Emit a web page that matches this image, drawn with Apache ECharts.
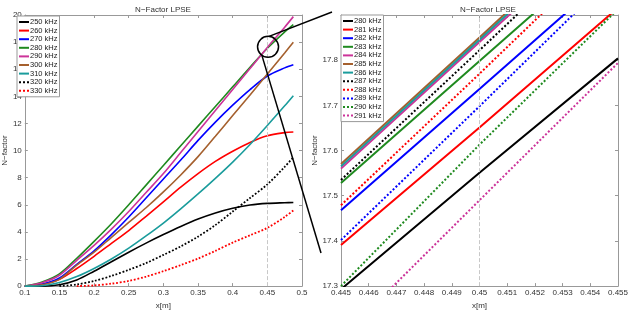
<!DOCTYPE html>
<html><head><meta charset="utf-8">
<script src="https://cdn.jsdelivr.net/npm/echarts@6/dist/echarts.min.js"></script>
<style>html,body{margin:0;padding:0;background:#fff}#c{width:631px;height:315px}</style>
</head><body><div id="c"></div>
<script>
// ---------- data: left panel ----------
const leftX = [0.1, 0.125, 0.15, 0.175, 0.2, 0.225, 0.25, 0.275, 0.3, 0.325, 0.35, 0.375, 0.4, 0.425, 0.45, 0.475, 0.4875];
const leftNames = ['250 kHz','260 kHz','270 kHz','280 kHz','290 kHz','300 kHz','310 kHz','320 kHz','330 kHz'];
const left250 = [0, 0, 0.1, 0.45, 1.1, 1.8, 2.5, 3.17, 3.8, 4.4, 4.95, 5.4, 5.75, 5.98, 6.1, 6.15, 6.17];
const left260 = [0, 0.12, 0.5, 1.3, 2.2, 3.15, 4.1, 5.15, 6.22, 7.3, 8.3, 9.2, 9.95, 10.6, 11.09, 11.32, 11.37];
const left270 = [0, 0.15, 0.6, 1.6, 2.6, 3.8, 5.1, 6.5, 7.9, 9.3, 10.75, 12.1, 13.35, 14.5, 15.5, 16.1, 16.33];
const left280 = [0, 0.3, 0.9, 2.05, 3.3, 4.6, 6.0, 7.45, 8.9, 10.35, 11.8, 13.25, 14.7, 16.15, 17.55, 18.75, 19.29];
const left290 = [0, 0.25, 0.8, 1.9, 3.0, 4.2, 5.5, 6.9, 8.3, 9.85, 11.4, 12.95, 14.5, 16.05, 17.61, 19.1, 19.88];
const left300 = [0, 0.1, 0.5, 1.55, 2.5, 3.6, 4.7, 5.78, 6.95, 8.2, 9.55, 11.05, 12.58, 14.1, 15.65, 17.2, 17.99];
const left310 = [0, 0.03, 0.26, 0.7, 1.3, 2.0, 2.8, 3.7, 4.65, 5.7, 6.8, 7.95, 9.15, 10.45, 11.85, 13.3, 14.05];
const left320 = [null, null, 0, 0.12, 0.38, 0.75, 1.2, 1.7, 2.3, 2.93, 3.65, 4.5, 5.5, 6.5, 7.5, 8.8, 9.5];
const left330 = [null, null, null, 0, 0.05, 0.18, 0.38, 0.7, 1.1, 1.55, 2.03, 2.6, 3.21, 3.75, 4.3, 5.1, 5.58];
const leftTicksX = {min: 0.1, max: 0.5, interval: 0.05};
const leftTicksY = {min: 0, max: 20, interval: 2};

// ---------- data: right panel (zoom) ----------
const rightX = [0.445, 0.45, 0.455];
const rightNames = ['280 kHz','281 kHz','282 kHz','283 kHz','284 kHz','285 kHz','286 kHz','287 kHz','288 kHz','289 kHz','290 kHz','291 kHz'];
const right280 = [17.293, 17.551, 17.804];
const right281 = [17.391, 17.651, 17.916];
const right282 = [17.468, 17.736, 18.006];
const right283 = [17.528, 17.798, 18.068];
const right284 = [17.560, 17.840, 18.120];
const right285 = [17.570, 17.850, 18.135];
const right286 = [17.565, 17.845, 18.128];
const right287 = [17.535, 17.822, 18.112];
const right288 = [17.479, 17.770, 18.065];
const right289 = [17.402, 17.698, 17.998];
const right290 = [17.300, 17.613, 17.913];
const right291 = [17.185, 17.490, 17.794];
const rightTicksX = {min: 0.445, max: 0.455, interval: 0.001};
const rightTicksY = {min: 17.3, max: 17.9, interval: 0.1};
const markX = 0.45;
const zoomCenter = [0.451, 17.65];

// ---------- styling ----------
const FONT = '"Liberation Sans", Arial, sans-serif';
const C = {k:'#000000', r:'#ff0000', b:'#0000ff', g:'#1f8a1f', m:'#cc3399', br:'#a5602e', t:'#1a9c9c'};
const leftYs = [left250,left260,left270,left280,left290,left300,left310,left320,left330];
const leftCol = [C.k,C.r,C.b,C.g,C.m,C.br,C.t,C.k,C.r];
const leftDot = [0,0,0,0,0,0,0,1,1];
const rightYs = [right280,right281,right282,right283,right284,right285,right286,right287,right288,right289,right290,right291];
const rightCol = [C.k,C.r,C.b,C.g,C.m,C.br,C.t,C.k,C.r,C.b,C.g,C.m];
const rightDot = [0,0,0,0,0,0,0,1,1,1,1,1];
const ICON_SOLID = 'path://M0,0h10v2h-10z';
const ICON_DOT = 'path://M0,0h2v2h-2zM4,0h2v2h-2zM8,0h2v2h-2z';

const chart = echarts.init(document.getElementById('c'));
const G0 = {left:14, top:15, width:288, height:282};
const G1 = {left:341, top:15, width:285, height:282};
const axCol = '#999';
const lbl = {fontSize:8, color:'#333', fontFamily:FONT};

function xAxes(gi, t, name){
  return [
    {gridIndex:gi, type:'value', position:'bottom', min:t.min, max:t.max, interval:t.interval,
     axisLine:{show:true,onZero:false,lineStyle:{color:axCol}}, axisTick:{show:true,inside:true,length:3,lineStyle:{color:axCol}},
     axisLabel:Object.assign({margin:3, showMaxLabel:true, showMinLabel:true}, lbl), splitLine:{show:false},
     name:name, nameLocation:'middle', nameGap:12, nameTextStyle:lbl},
    {gridIndex:gi, type:'value', position:'top', min:t.min, max:t.max, interval:t.interval,
     axisLine:{show:true,onZero:false,lineStyle:{color:axCol}}, axisTick:{show:true,inside:true,length:3,lineStyle:{color:axCol}},
     axisLabel:{show:false}, splitLine:{show:false}}
  ];
}
function yAxes(gi, t, gap, showMax){
  return [
    {gridIndex:gi, type:'value', position:'left', min:t.min, max:t.max, interval:t.interval,
     axisLine:{show:true,onZero:false,lineStyle:{color:axCol}}, axisTick:{show:true,inside:true,length:3,lineStyle:{color:axCol}},
     axisLabel:Object.assign({margin:3, showMaxLabel:showMax}, lbl), splitLine:{show:false},
     name:'N\u2212factor', nameLocation:'middle', nameGap:gap, nameTextStyle:lbl},
    {gridIndex:gi, type:'value', position:'right', min:t.min, max:t.max, interval:t.interval,
     axisLine:{show:true,onZero:false,lineStyle:{color:axCol}}, axisTick:{show:true,inside:true,length:3,lineStyle:{color:axCol}},
     axisLabel:{show:false}, splitLine:{show:false}}
  ];
}

const series = [];
leftYs.forEach((ys,i)=>{
  const s = {type:'line', name:'L|'+leftNames[i], xAxisIndex:0, yAxisIndex:0, showSymbol:false, symbol:'none',
    smooth:0.3, silent:true, animation:false,
    data: leftX.map((x,j)=>[x, ys[j]]).filter(p=>p[1]!=null),
    lineStyle:{color:leftCol[i], width:leftDot[i]?1.8:1.6, type:leftDot[i]?'dotted':'solid'},
    itemStyle:{color:leftCol[i]}};
  if(i===0) s.markLine = {silent:true, symbol:'none', animation:false, label:{show:false},
    lineStyle:{type:'dashed', color:'#c8c8c8', width:1}, data:[{xAxis:markX}]};
  series.push(s);
});
rightYs.forEach((ys,i)=>{
  const s = {type:'line', name:'R|'+rightNames[i], xAxisIndex:2, yAxisIndex:2, showSymbol:false, symbol:'none',
    silent:true, animation:false,
    data: rightX.map((x,j)=>[x, ys[j]]),
    lineStyle:{color:rightCol[i], width:2, type:rightDot[i]?'dotted':'solid'},
    itemStyle:{color:rightCol[i]}};
  if(i===0) s.markLine = {silent:true, symbol:'none', animation:false, label:{show:false},
    lineStyle:{type:'dashed', color:'#c8c8c8', width:1}, data:[{xAxis:markX}]};
  series.push(s);
});

const legendBase = {orient:'vertical', itemWidth:10, itemHeight:7, itemGap:0.6, padding:[2,2,2,2],
  backgroundColor:'#fff', borderColor:'#999', borderWidth:1, selectedMode:false,
  textStyle:{fontSize:7.5, color:'#222', fontFamily:FONT, padding:[0,0,0,-4]},
  formatter:n=>n.slice(2)};

chart.setOption({
  animation:false,
  backgroundColor:'#fff',
  title:[
    {text:'N\u2212Factor LPSE', left:158, top:1, textAlign:'center', textStyle:{fontSize:8, fontWeight:'normal', color:'#333', fontFamily:FONT}},
    {text:'N\u2212Factor LPSE', left:483, top:1, textAlign:'center', textStyle:{fontSize:8, fontWeight:'normal', color:'#333', fontFamily:FONT}}
  ],
  grid:[G0, G1],
  xAxis:[...xAxes(0,leftTicksX,'x[m]'), ...xAxes(1,rightTicksX,'x[m]')],
  yAxis:[...yAxes(0,leftTicksY,12,true), ...yAxes(1,rightTicksY,22,false)],
  legend:[
    Object.assign({}, legendBase, {left:17, top:16,
      data:leftNames.map((n,i)=>({name:'L|'+n, icon:leftDot[i]?ICON_DOT:ICON_SOLID}))}),
    Object.assign({}, legendBase, {left:341, top:15,
      data:rightNames.map((n,i)=>({name:'R|'+n, icon:rightDot[i]?ICON_DOT:ICON_SOLID}))})
  ],
  series:series
});

// zoom annotation: circle around region + connecting lines
const cp = chart.convertToPixel({gridIndex:0}, zoomCenter);
chart.setOption({graphic:[
  {type:'circle', shape:{cx:cp[0], cy:cp[1], r:10.5}, style:{fill:'none', stroke:'#000', lineWidth:1.5}, z:100, silent:true},
  {type:'line', shape:{x1:cp[0]+1, y1:cp[1]-10.5, x2:332, y2:12}, style:{stroke:'#000', lineWidth:1.5}, z:100, silent:true},
  {type:'line', shape:{x1:cp[0]-6, y1:cp[1]+9, x2:321, y2:253}, style:{stroke:'#000', lineWidth:1.5}, z:100, silent:true}
]});
</script></body></html>
